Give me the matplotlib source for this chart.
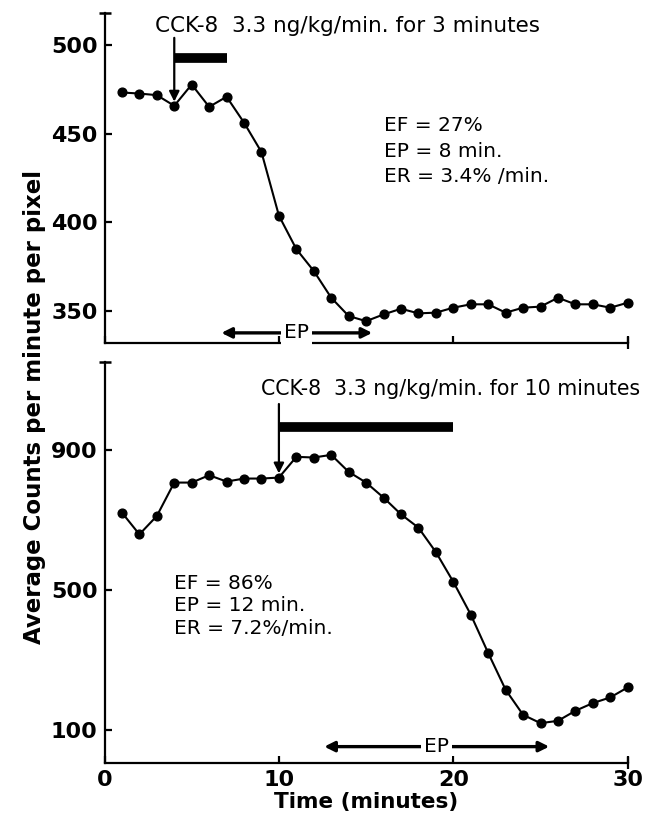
import matplotlib.pyplot as plt

# time points (minutes)
minutes = list(range(1, 31))

# top panel: 3 minute infusion
counts_3min = [473.2, 472.6, 471.7, 465.7, 477.7, 465.1, 470.8, 456.2, 439.6, 403.8,
               384.9, 372.6, 357.5, 347.2, 344.3, 348.1, 351.3, 348.7, 349.1, 351.9,
               353.8, 353.8, 349.1, 351.9, 352.5, 357.5, 353.8, 353.8, 351.9, 354.7]

# bottom panel: 10 minute infusion
counts_10min = [721.3, 659.1, 711.7, 807.3, 807.3, 828.3, 810.2, 818.8, 818.8, 821.6,
                880.9, 879.0, 886.6, 837.9, 807.3, 764.3, 716.5, 678.3, 608.5, 523.4,
                429.7, 319.8, 214.7, 143.0, 119.1, 125.8, 154.5, 176.5, 192.7, 221.4]

top_yticks = [350, 400, 450, 500]
bot_yticks = [100, 500, 900]
xticks = [0, 10, 20, 30]

top_info = "EF = 27%\nEP = 8 min.\nER = 3.4% /min."
bot_info = "EF = 86%\nEP = 12 min.\nER = 7.2%/min."
top_title = "CCK-8  3.3 ng/kg/min. for 3 minutes"
bot_title = "CCK-8  3.3 ng/kg/min. for 10 minutes"

# infusion start / length, EP arrow ends
inf_start = [4, 10]
inf_len = [3, 10]
ep_span = [(6.7, 15.35), (12.6, 25.5)]

plt.rcParams['font.family'] = 'DejaVu Sans'

fig = plt.figure(figsize=(6.54, 8.18), dpi=100)
ax1 = fig.add_axes([0.1598, 0.5807, 0.800, 0.4034])
ax2 = fig.add_axes([0.1598, 0.0676, 0.800, 0.4902])


def style(ax):
  for s in ['top', 'right']:
    ax.spines[s].set_visible(False)
  for s in ['left', 'bottom']:
    ax.spines[s].set_linewidth(1.6)
  ax.tick_params(direction='in', length=5, width=1.6, labelsize=16, pad=5)
  for lab in ax.get_xticklabels() + ax.get_yticklabels():
    lab.set_fontweight('bold')
  ax.set_xlim(0, 30)
  # small cap at the top of the y axis
  ax.plot([0], [1], marker='_', ms=9, mew=1.8, color='k',
          transform=ax.transAxes, clip_on=False)
  # small up tick at the end of the x axis
  ax.plot([1], [0], marker='|', ms=9, mew=1.6, color='k',
          transform=ax.transAxes, clip_on=False)


def draw(ax, y, idx, bar_y, title_xy, title_fs, info_xy, ep_y, ep_span,
         arrow_top, spacing):
  ax.plot(minutes, y, color='k', lw=1.5, marker='o', ms=6.3, clip_on=False)
  i = inf_start[idx]
  # arrow down onto the point at infusion start
  ax.annotate('', xy=(i, y[i - 1]), xytext=(i, arrow_top),
              arrowprops=dict(arrowstyle='-|>', lw=1.6, color='k',
                              mutation_scale=15, shrinkA=0, shrinkB=3))
  ax.plot([i, i + inf_len[idx]], [bar_y, bar_y], color='k', lw=7,
          solid_capstyle='butt')
  ax.text(title_xy[0], title_xy[1], [top_title, bot_title][idx],
          fontsize=title_fs, va='center', ha='left')
  ax.text(info_xy[0], info_xy[1], [top_info, bot_info][idx],
          fontsize=14.5, va='top', ha='left', linespacing=spacing)
  a, b = ep_span
  ax.annotate('', xy=(a, ep_y), xytext=(b, ep_y),
              arrowprops=dict(arrowstyle='<|-|>', lw=2.4, color='k',
                              mutation_scale=15, shrinkA=0, shrinkB=0))
  ax.text((a + b) / 2, ep_y, 'EP', fontsize=14.5, ha='center', va='center',
          bbox=dict(fc='white', ec='none', pad=2), zorder=5)


ax1.set_xticks(xticks)
ax1.set_yticks(top_yticks)
ax2.set_xticks(xticks)
ax2.set_yticks(bot_yticks)
ax1.set_xticklabels([])

style(ax1)
ax1.set_ylim(332, 518)
draw(ax1, counts_3min, 0, 492.5, (2.9, 510.4), 15.5, (16.0, 460), 337.7,
     ep_span[0], 504, 1.45)

style(ax2)
ax2.set_ylim(6, 1153)
draw(ax2, counts_10min, 1, 967, (8.95, 1075), 14.8, (4.0, 547), 52,
     ep_span[1], 1032, 1.25)
ax2.set_xlabel('Time (minutes)', fontsize=15.5, fontweight='bold', labelpad=2)

fig.text(0.052, 0.502, 'Average Counts per minute per pixel', rotation=90,
         fontsize=16.5, fontweight='bold', ha='center', va='center')

fig.savefig('out.png', dpi=100)
